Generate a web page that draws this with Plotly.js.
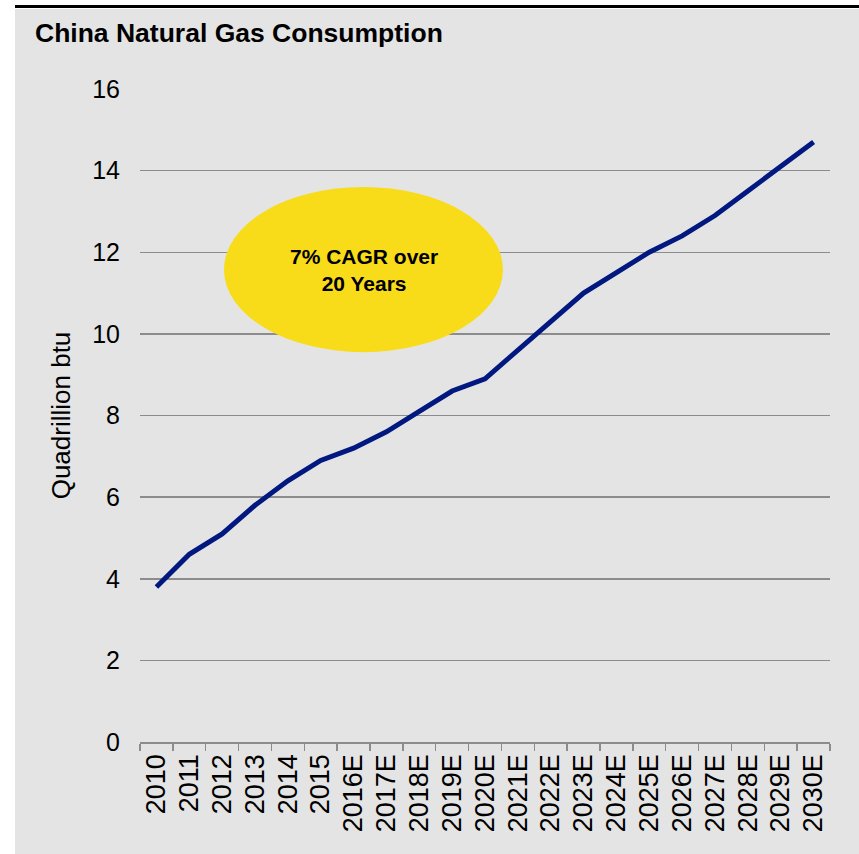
<!DOCTYPE html>
<html>
<head>
<meta charset="utf-8">
<script src="https://cdn.plot.ly/plotly-3.0.1.min.js"></script>
<style>
  html, body { margin: 0; padding: 0; background: #ffffff; width: 859px; height: 854px; overflow: hidden; }
  #topline { position: absolute; left: 15px; top: 5px; width: 844px; height: 3px; background: #000000; }
  #chart { position: absolute; left: 15px; top: 9px; width: 844px; height: 845px; }
</style>
</head>
<body>
<div id="topline"></div>
<div id="chart"></div>
<script>
const years = ["2010","2011","2012","2013","2014","2015","2016E","2017E","2018E","2019E","2020E",
               "2021E","2022E","2023E","2024E","2025E","2026E","2027E","2028E","2029E","2030E"];
const consumption = [3.8, 4.6, 5.1, 5.8, 6.4, 6.9, 7.2, 7.6, 8.1, 8.6, 8.9,
                     9.6, 10.3, 11.0, 11.5, 12.0, 12.4, 12.9, 13.5, 14.1, 14.7];
const yTicks = [0, 2, 4, 6, 8, 10, 12, 14, 16];
const chartTitle = "China Natural Gas Consumption";
const yTitle = "Quadrillion btu";
const calloutText = "7% CAGR over<br>20 Years";

const FONT = "Liberation Sans, Arial, sans-serif";

const trace = {
  type: "scatter",
  mode: "lines",
  x: years,
  y: consumption,
  line: { color: "#00187F", width: 5 },
  hoverinfo: "x+y"
};

const layout = {
  width: 844,
  height: 845,
  paper_bgcolor: "#E4E4E4",
  plot_bgcolor: "#E4E4E4",
  margin: { l: 125, r: 29, t: 80, b: 112 },
  showlegend: false,
  font: { family: FONT, color: "#000000", size: 25 },
  title: {
    text: "<b>" + chartTitle + "</b>",
    font: { family: FONT, size: 26.5, color: "#000000" },
    xref: "container", x: 20 / 844, xanchor: "left",
    yref: "container", y: 1 - 24 / 845, yanchor: "middle"
  },
  xaxis: {
    type: "category",
    categoryorder: "array",
    categoryarray: years,
    range: [-0.5, years.length - 0.5],
    tickson: "boundaries",
    ticks: "outside",
    ticklen: 7,
    tickwidth: 1.5,
    tickcolor: "#8C8C8C",
    showline: true,
    linecolor: "#8C8C8C",
    linewidth: 1.5,
    showgrid: false,
    tickangle: -90,
    tickfont: { family: FONT, size: 27, color: "#000000" },
    fixedrange: true
  },
  yaxis: {
    range: [0, 16],
    tickvals: yTicks,
    ticktext: yTicks.map(String),
    showgrid: true,
    gridcolor: "#8C8C8C",
    gridwidth: 1.5,
    zeroline: false,
    showline: false,
    ticks: "outside",
    ticklen: 14,
    tickcolor: "rgba(0,0,0,0)",
    tickfont: { family: FONT, size: 25, color: "#000000" },
    title: { text: yTitle, font: { family: FONT, size: 26, color: "#000000" }, standoff: 14 },
    fixedrange: true
  },
  shapes: [
    {
      type: "circle",
      xref: "paper", yref: "paper",
      x0: 0.1217, x1: 0.526,
      y0: 0.597, y1: 0.850,
      fillcolor: "#F8DC1A",
      line: { width: 0 },
      layer: "above"
    }
  ],
  annotations: [
    {
      xref: "paper", yref: "paper",
      x: 0.324, y: 0.723,
      xanchor: "center", yanchor: "middle",
      text: "<b>" + calloutText + "</b>",
      showarrow: false,
      align: "center",
      font: { family: FONT, size: 21, color: "#000000" }
    }
  ]
};

Plotly.newPlot("chart", [trace], layout, { displayModeBar: false, staticPlot: true });
</script>
</body>
</html>
